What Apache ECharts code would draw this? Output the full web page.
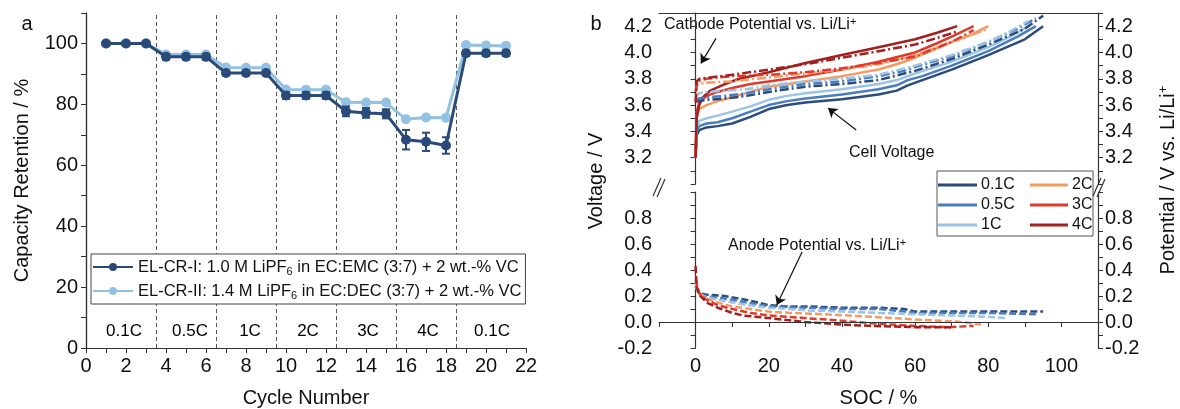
<!DOCTYPE html>
<html>
<head>
<meta charset="utf-8">
<script src="https://cdn.jsdelivr.net/npm/echarts@6/dist/echarts.min.js"></script>
<style>
  html, body { margin: 0; padding: 0; background: #fff; }
  #chart { width: 1180px; height: 409px; }
</style>
</head>
<body>
<div id="chart"></div>
<script>
// ---- panel a: capacity retention ----
const cycles = [1, 2, 3, 4, 5, 6, 7, 8, 9, 10, 11, 12, 13, 14, 15, 16, 17, 18, 19, 20, 21];
const retentionI = [100, 100, 100, 95.6, 95.6, 95.6, 90.3, 90.3, 90.3, 82.9, 82.9, 82.9, 77.7, 77.2, 76.9, 68.4, 67.7, 66.5, 96.8, 96.8, 96.8];
const retentionII = [100, 100, 100, 96.4, 96.4, 96.4, 92.1, 92.0, 92.0, 84.9, 84.8, 84.8, 80.7, 80.6, 80.6, 75.1, 75.7, 75.6, 99.5, 99.3, 99.2];
const errorI = [0.4, 0.4, 0.4, 0.9, 0.9, 0.9, 0.8, 0.8, 0.8, 1.1, 1.1, 1.1, 1.6, 1.6, 1.5, 3.2, 3.0, 2.7, 0.9, 0.9, 0.9];
const electrolytes = [
  'EL-CR-I: 1.0 M LiPF6 in EC:EMC (3:7) + 2 wt.-% VC',
  'EL-CR-II: 1.4 M LiPF6 in EC:DEC (3:7) + 2 wt.-% VC'
];
const stepBorders = [3.5, 6.5, 9.5, 12.5, 15.5, 18.5];
const stepLabels = ['0.1C', '0.5C', '1C', '2C', '3C', '4C', '0.1C'];
const stepLabelX = [1.9, 5.2, 8.2, 11.1, 14.1, 17.1, 20.3];

// ---- panel b: voltage profiles, [SOC %, V] ----
const cRates = ['0.1C', '0.5C', '1C', '2C', '3C', '4C'];
const cell01 = [[0, 3.2], [0.3, 3.37], [1, 3.41], [3, 3.43], [6, 3.44], [10, 3.46], [15, 3.51], [20, 3.57], [25, 3.6], [30, 3.62], [40, 3.645], [50, 3.68], [55, 3.71], [58, 3.75], [62, 3.79], [70, 3.87], [80, 3.98], [90, 4.1], [95, 4.2]];
const cell05 = [[0, 3.2], [0.3, 3.4], [1, 3.44], [3, 3.46], [6, 3.47], [10, 3.5], [15, 3.55], [20, 3.6], [25, 3.63], [30, 3.65], [40, 3.68], [50, 3.72], [55, 3.75], [58, 3.79], [62, 3.82], [70, 3.9], [80, 4.01], [88, 4.12], [93, 4.2]];
const cell1 = [[0, 3.2], [0.3, 3.43], [1, 3.48], [3, 3.5], [6, 3.52], [10, 3.55], [15, 3.59], [20, 3.64], [25, 3.67], [30, 3.69], [40, 3.72], [50, 3.76], [55, 3.79], [60, 3.84], [70, 3.93], [80, 4.04], [86, 4.12], [91, 4.2]];
const cell2 = [[0, 3.2], [0.3, 3.52], [1, 3.57], [3, 3.6], [6, 3.63], [10, 3.66], [15, 3.7], [20, 3.74], [30, 3.78], [40, 3.82], [50, 3.87], [55, 3.91], [60, 3.96], [65, 4.02], [70, 4.08], [75, 4.13], [80, 4.2]];
const cell3 = [[0, 3.2], [0.3, 3.55], [1, 3.62], [3, 3.67], [6, 3.7], [10, 3.73], [15, 3.76], [20, 3.78], [30, 3.82], [40, 3.87], [50, 3.93], [60, 4.0], [66, 4.07], [70, 4.12], [76, 4.2]];
const cell4 = [[0, 3.2], [0.3, 3.5], [1, 3.6], [2, 3.66], [4, 3.71], [8, 3.76], [12, 3.8], [20, 3.85], [30, 3.92], [40, 3.98], [50, 4.04], [60, 4.1], [66, 4.15], [71.5, 4.2]];

const cathode01 = [[0, 3.63], [1, 3.63], [3, 3.64], [8, 3.65], [14, 3.67], [20, 3.7], [25, 3.72], [30, 3.74], [40, 3.76], [50, 3.79], [57, 3.84], [60, 3.86], [70, 3.95], [80, 4.06], [90, 4.18], [95, 4.28]];
const cathode05 = [[0, 3.64], [1, 3.65], [3, 3.66], [8, 3.67], [14, 3.69], [20, 3.72], [30, 3.76], [40, 3.78], [50, 3.82], [57, 3.86], [60, 3.89], [70, 3.97], [80, 4.08], [88, 4.18], [93, 4.26]];
const cathode1 = [[0, 3.66], [1, 3.69], [3, 3.7], [8, 3.71], [14, 3.72], [20, 3.75], [30, 3.78], [40, 3.8], [50, 3.83], [60, 3.9], [70, 3.98], [80, 4.08], [86, 4.16], [91, 4.24]];
const cathode2 = [[0, 3.7], [0.5, 3.76], [3, 3.77], [10, 3.78], [20, 3.81], [30, 3.84], [40, 3.87], [50, 3.91], [60, 3.98], [70, 4.08], [75, 4.13], [80, 4.18]];
const cathode3 = [[0, 3.7], [0.5, 3.78], [3, 3.8], [10, 3.82], [20, 3.83], [30, 3.85], [40, 3.88], [50, 3.92], [60, 3.97], [70, 4.08], [76, 4.17]];
const cathode4 = [[0, 3.62], [0.3, 3.78], [1, 3.8], [4, 3.81], [10, 3.83], [20, 3.87], [30, 3.91], [40, 3.96], [50, 4.01], [60, 4.06], [66, 4.11], [71.5, 4.16]];

const anode01 = [[0, 0.27], [1, 0.22], [3, 0.21], [8, 0.2], [14, 0.17], [20, 0.13], [25, 0.12], [30, 0.12], [40, 0.11], [50, 0.11], [57, 0.1], [60, 0.08], [70, 0.08], [80, 0.08], [90, 0.08], [95, 0.08]];
const anode05 = [[0, 0.28], [1, 0.22], [3, 0.2], [8, 0.18], [14, 0.15], [20, 0.12], [30, 0.11], [40, 0.1], [50, 0.1], [57, 0.08], [60, 0.07], [70, 0.07], [80, 0.07], [93, 0.06]];
const anode1 = [[0, 0.28], [1, 0.21], [3, 0.19], [8, 0.16], [14, 0.13], [20, 0.11], [30, 0.09], [40, 0.08], [50, 0.07], [60, 0.06], [70, 0.05], [80, 0.04], [85, 0.03]];
const anode2 = [[0, 0.3], [1, 0.22], [3, 0.18], [6, 0.15], [10, 0.12], [15, 0.1], [20, 0.08], [26, 0.07], [35, 0.06], [48, 0.04], [60, 0.02], [67, 0.01], [73, 0.0], [78, -0.02]];
const anode3 = [[0, 0.33], [1, 0.22], [3, 0.17], [6, 0.13], [10, 0.1], [15, 0.07], [20, 0.05], [30, 0.03], [40, 0.01], [48, -0.01], [60, -0.03], [69, -0.04], [76, -0.03]];
const anode4 = [[0, 0.43], [0.3, 0.27], [1, 0.21], [3, 0.15], [6, 0.11], [10, 0.07], [13, 0.05], [20, 0.03], [30, 0.0], [40, -0.02], [48, -0.03], [60, -0.04], [70, -0.04]];

const cellCurves = [cell01, cell05, cell1, cell2, cell3, cell4];
const cathodeCurves = [cathode01, cathode05, cathode1, cathode2, cathode3, cathode4];
const anodeCurves = [anode01, anode05, anode1, anode2, anode3, anode4];

const rateColors = ['#2B4B7D', '#4A7CC0', '#9CC4E5', '#F79A60', '#DF3A2D', '#A3201F'];
const darkA = '#2A4A7A';
const lightA = '#93C1E3';
const font = 'Liberation Sans, Arial, Helvetica, sans-serif';

const chart = echarts.init(document.getElementById('chart'));

const frameLine = { show: true, lineStyle: { color: '#333', width: 1.2 } };
const tickOut = { show: true, length: 5, inside: false, lineStyle: { color: '#333', width: 1 } };
const tickIn = { show: true, length: 5, inside: true, lineStyle: { color: '#333', width: 1 } };
const label20 = { color: '#111', fontSize: 20, fontFamily: font };
const one = v => (Math.round(v * 10) / 10).toFixed(1);
const evenTenth = v => Math.round(v * 10) % 2 === 0;

const series = [];

// panel a
series.push({
  name: electrolytes[1],
  type: 'line',
  xAxisIndex: 0,
  yAxisIndex: 0,
  data: cycles.map((c, i) => [c, retentionII[i]]),
  symbol: 'circle',
  symbolSize: 10,
  lineStyle: { color: lightA, width: 3 },
  itemStyle: { color: lightA },
  z: 2
});
series.push({
  name: electrolytes[0],
  type: 'line',
  xAxisIndex: 0,
  yAxisIndex: 0,
  data: cycles.map((c, i) => [c, retentionI[i]]),
  symbol: 'circle',
  symbolSize: 10,
  lineStyle: { color: darkA, width: 3 },
  itemStyle: { color: darkA },
  z: 3,
  markLine: {
    silent: true,
    symbol: 'none',
    z: 1,
    label: { show: false },
    lineStyle: { color: '#555', width: 1, type: [4, 3] },
    data: stepBorders.map(x => ({ xAxis: x }))
  }
});
series.push({
  type: 'custom',
  xAxisIndex: 0,
  yAxisIndex: 0,
  data: cycles.map((c, i) => [c, retentionI[i] - errorI[i], retentionI[i] + errorI[i]]),
  encode: { x: 0, y: [1, 2] },
  z: 4,
  renderItem(params, api) {
    const x = api.value(0);
    const hi = api.coord([x, api.value(2)]);
    const lo = api.coord([x, api.value(1)]);
    const w = 4;
    const style = { stroke: darkA, lineWidth: 2 };
    return {
      type: 'group',
      children: [
        { type: 'line', shape: { x1: hi[0], y1: hi[1], x2: lo[0], y2: lo[1] }, style },
        { type: 'line', shape: { x1: hi[0] - w, y1: hi[1], x2: hi[0] + w, y2: hi[1] }, style },
        { type: 'line', shape: { x1: lo[0] - w, y1: lo[1], x2: lo[0] + w, y2: lo[1] }, style }
      ]
    };
  }
});
series.push({
  type: 'scatter',
  xAxisIndex: 0,
  yAxisIndex: 0,
  data: stepLabelX.map((x, i) => [x, 5.6, stepLabels[i]]),
  symbolSize: 0,
  itemStyle: { color: '#000', opacity: 1 },
  silent: true,
  label: { show: true, position: 'inside', formatter: p => p.data[2], fontSize: 17, color: '#000', opacity: 1, fontFamily: font }
});

// panel b: solid = cell voltage first (legend takes its style), then dash-dot cathode, dashed anode
cRates.forEach((rate, i) => {
  series.push({
    name: rate,
    type: 'line',
    xAxisIndex: 2,
    yAxisIndex: 2,
    data: cellCurves[i],
    symbol: 'none',
    lineStyle: { color: rateColors[i], width: 2.5 },
    itemStyle: { color: rateColors[i] },
    z: 3
  });
});
cRates.forEach((rate, i) => {
  series.push({
    name: rate,
    type: 'line',
    xAxisIndex: 2,
    yAxisIndex: 2,
    data: cathodeCurves[i],
    symbol: 'none',
    lineStyle: { color: rateColors[i], width: 2.5, type: [9, 3, 2, 3] },
    itemStyle: { color: rateColors[i] },
    z: 3
  });
  series.push({
    name: rate,
    type: 'line',
    xAxisIndex: 3,
    yAxisIndex: 4,
    data: anodeCurves[i],
    symbol: 'none',
    lineStyle: { color: rateColors[i], width: 2.5, type: [7, 3] },
    itemStyle: { color: rateColors[i] },
    z: 3
  });
});

// annotation arrows and the zero line, in data coordinates
const arrowLine = {
  silent: true,
  symbol: ['none', 'arrow'],
  symbolSize: 9,
  label: { show: false },
  lineStyle: { color: '#111', width: 1.2, type: 'solid' }
};
series[4].markLine = Object.assign({}, arrowLine, {
  data: [
    [{ coord: [5.6, 4.107] }, { coord: [1.45, 3.917] }],
    [{ coord: [43.9, 3.41] }, { coord: [36.2, 3.577] }]
  ]
});
series[11].markLine = Object.assign({}, arrowLine, {
  data: [[{ coord: [29.1, 0.538] }, { coord: [22.2, 0.131] }]]
});
series[13].markLine = {
  silent: true,
  symbol: 'none',
  label: { show: false },
  lineStyle: { color: '#333', width: 1, type: 'solid' },
  data: [{ yAxis: 0 }]
};

const legendRich = { sub: { fontSize: 11, lineHeight: 12, verticalAlign: 'bottom', fontFamily: font } };
const supRich = { sup: { fontSize: 11, lineHeight: 12, verticalAlign: 'top', fontFamily: font } };
const rateLegend = {
  orient: 'vertical',
  top: 177,
  padding: 0,
  itemGap: 4,
  itemHeight: 3,
  icon: 'rect',
  z: 20,
  textStyle: { fontSize: 16, color: '#111', lineHeight: 16, fontFamily: font, padding: [0, 0, 0, -1] }
};

chart.setOption({
  animation: false,
  backgroundColor: '#fff',
  textStyle: { fontFamily: font },
  grid: [
    { left: 86, top: 13, width: 440, height: 335, outerBoundsMode: 'none' },
    { left: 659, top: 13, width: 439, height: 171, outerBoundsMode: 'none' },
    { left: 659, top: 192, width: 439, height: 156, outerBoundsMode: 'none' }
  ],
  legend: [
    {
      data: [electrolytes[0], electrolytes[1]],
      orient: 'vertical',
      left: 91,
      top: 254,
      padding: [3, 4, 3, 1],
      itemGap: 4,
      itemWidth: 40,
      itemHeight: 10,
      borderColor: '#444',
      borderWidth: 1,
      backgroundColor: '#fff',
      z: 20,
      formatter: n => n.replace('LiPF6', 'LiPF{sub|6}'),
      textStyle: { fontSize: 16.5, color: '#111', lineHeight: 20, fontFamily: font, rich: legendRich }
    },
    Object.assign({ data: cRates.slice(0, 3), left: 938, itemWidth: 39 }, rateLegend),
    Object.assign({ data: cRates.slice(3), left: 1030, itemWidth: 38 }, rateLegend)
  ],
  xAxis: [
    {
      type: 'value', gridIndex: 0, min: 0, max: 22, interval: 1,
      axisLine: frameLine, axisTick: tickOut, splitLine: { show: false },
      axisLabel: Object.assign({}, label20, { margin: 8, formatter: v => (v % 2 === 0 ? v : '') }),
      name: 'Cycle Number', nameLocation: 'middle', nameGap: 40,
      nameTextStyle: { fontSize: 20, color: '#111', fontFamily: font }
    },
    {
      type: 'value', gridIndex: 0, position: 'top', min: 0, max: 22,
      axisLine: frameLine, axisTick: { show: false }, axisLabel: { show: false }, splitLine: { show: false }
    },
    {
      type: 'value', gridIndex: 1, position: 'top', min: -10, max: 110, interval: 10,
      axisLine: frameLine, axisTick: { show: false }, axisLabel: { show: false }, splitLine: { show: false }
    },
    {
      type: 'value', gridIndex: 2, min: -10, max: 110, interval: 10,
      axisLine: frameLine, axisTick: tickOut, splitLine: { show: false },
      axisLabel: Object.assign({}, label20, { margin: 8, formatter: v => (v >= 0 && v <= 100 && v % 20 === 0 ? v : '') }),
      name: 'SOC / %', nameLocation: 'middle', nameGap: 40,
      nameTextStyle: { fontSize: 20, color: '#111', fontFamily: font }
    }
  ],
  yAxis: [
    {
      type: 'value', gridIndex: 0, min: 0, max: 110, interval: 10,
      axisLine: frameLine, axisTick: tickOut, splitLine: { show: false },
      axisLabel: Object.assign({}, label20, { margin: 8, formatter: v => (v % 20 === 0 && v <= 100 ? v : '') }),
      name: 'Capacity Retention / %', nameLocation: 'middle', nameGap: 54, nameRotate: 90,
      nameTextStyle: { fontSize: 20, color: '#111', fontFamily: font }
    },
    {
      type: 'value', gridIndex: 0, position: 'right', min: 0, max: 110, interval: 10,
      axisLine: frameLine, axisTick: tickIn, axisLabel: { show: false }, splitLine: { show: false }
    },
    {
      type: 'value', gridIndex: 1, min: 3.0, max: 4.3, interval: 0.1,
      axisLine: frameLine, axisTick: tickOut, splitLine: { show: false },
      axisLabel: Object.assign({}, label20, { margin: 7, formatter: v => (evenTenth(v) && v > 3.1 && v < 4.25 ? one(v) : '') })
    },
    {
      type: 'value', gridIndex: 1, position: 'right', min: 3.0, max: 4.3, interval: 0.1,
      axisLine: frameLine, axisTick: tickOut, splitLine: { show: false },
      axisLabel: Object.assign({}, label20, { margin: 7, formatter: v => (evenTenth(v) && v > 3.1 && v < 4.25 ? one(v) : '') })
    },
    {
      type: 'value', gridIndex: 2, min: -0.2, max: 1.0, interval: 0.1,
      axisLine: frameLine, axisTick: tickOut, splitLine: { show: false },
      axisLabel: Object.assign({}, label20, { margin: 7, formatter: v => (evenTenth(v) && v < 0.95 ? one(v) : '') })
    },
    {
      type: 'value', gridIndex: 2, position: 'right', min: -0.2, max: 1.0, interval: 0.1,
      axisLine: frameLine, axisTick: tickOut, splitLine: { show: false },
      axisLabel: Object.assign({}, label20, { margin: 7, formatter: v => (evenTenth(v) && v < 0.95 ? one(v) : '') })
    }
  ],
  graphic: [
    { type: 'text', x: 27, y: 24, style: { text: 'a', fontSize: 20, fontFamily: font, fill: '#111', align: 'center', verticalAlign: 'middle' } },
    { type: 'text', x: 596, y: 24, style: { text: 'b', fontSize: 20, fontFamily: font, fill: '#111', align: 'center', verticalAlign: 'middle' } },
    { type: 'text', x: 596, y: 181, rotation: Math.PI / 2, style: { text: 'Voltage / V', fontSize: 20, fontFamily: font, fill: '#111', align: 'center', verticalAlign: 'middle' } },
    { type: 'text', x: 1168, y: 180, rotation: Math.PI / 2, style: { text: 'Potential / V vs. Li/Li{sup|+}', fontSize: 20, fontFamily: font, fill: '#111', align: 'center', verticalAlign: 'middle', lineHeight: 22, rich: { sup: { fontSize: 13, lineHeight: 13, verticalAlign: 'top', fontFamily: font } } } },
    { type: 'text', x: 664, y: 25, style: { text: 'Cathode Potential vs. Li/Li{sup|+}', fontSize: 16, fontFamily: font, fill: '#111', align: 'left', verticalAlign: 'middle', lineHeight: 18, rich: supRich } },
    { type: 'text', x: 849, y: 153, style: { text: 'Cell Voltage', fontSize: 16, fontFamily: font, fill: '#111', align: 'left', verticalAlign: 'middle' } },
    { type: 'text', x: 728, y: 246, style: { text: 'Anode Potential vs. Li/Li{sup|+}', fontSize: 16, fontFamily: font, fill: '#111', align: 'left', verticalAlign: 'middle', lineHeight: 18, rich: supRich } },
    // legend frame for panel b
    { type: 'rect', shape: { x: 937, y: 171, width: 156, height: 65 }, style: { fill: '#fff', stroke: '#555', lineWidth: 1 } },
    // axis break marks
    { type: 'line', shape: { x1: 653, y1: 196, x2: 661, y2: 178 }, style: { stroke: '#333', lineWidth: 1.2 } },
    { type: 'line', shape: { x1: 657, y1: 197, x2: 665, y2: 179 }, style: { stroke: '#333', lineWidth: 1.2 } },
    { type: 'line', shape: { x1: 1093, y1: 196, x2: 1101, y2: 178 }, style: { stroke: '#333', lineWidth: 1.2 } },
    { type: 'line', shape: { x1: 1097, y1: 197, x2: 1105, y2: 179 }, style: { stroke: '#333', lineWidth: 1.2 } }
  ],
  series
});
</script>
</body>
</html>
